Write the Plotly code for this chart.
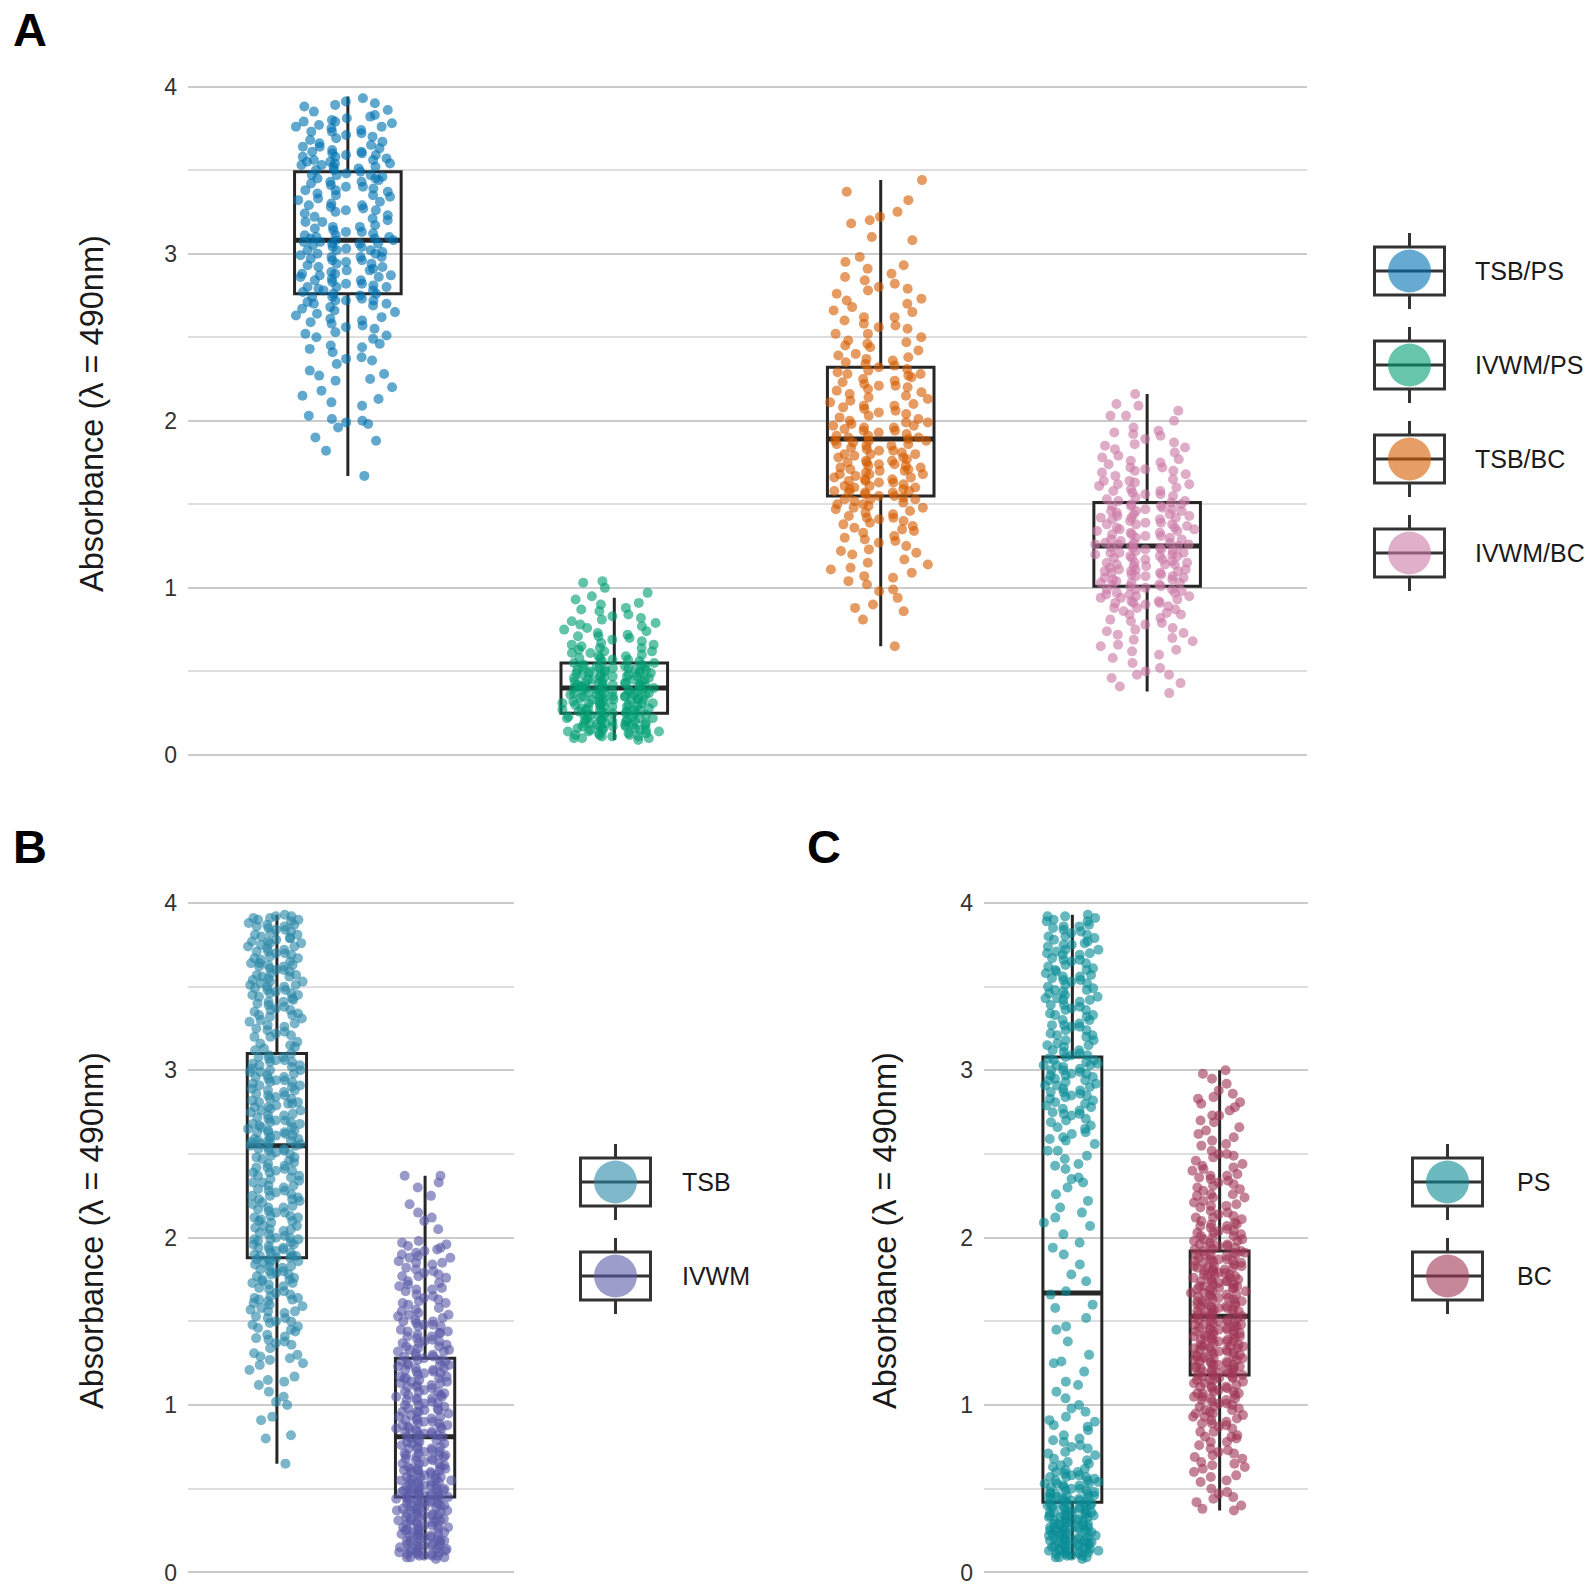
import plotly.graph_objects as go

W, H = 1594, 1588
FONT = "Liberation Sans, Arial, sans-serif"

# =========================
# Datos
# =========================
# --- Panel A: medio x superficie
groups_a = ["TSB/PS", "IVWM/PS", "TSB/BC", "IVWM/BC"]
colors_a = ["#0072B2", "#009E73", "#D55E00", "#CC79A7"]
q1_a = [2.76, 0.25, 1.55, 1.01]
med_a = [3.08, 0.40, 1.89, 1.25]
q3_a = [3.49, 0.55, 2.32, 1.51]
lo_a = [1.67, 0.09, 0.65, 0.38]
hi_a = [3.94, 0.94, 3.44, 2.16]

tsb_ps = [3.93, 3.91, 3.89, 3.88, 3.85, 3.81, 3.80, 3.79, 3.77, 3.76, 3.75, 3.73, 3.72, 3.70, 3.69, 3.66,
          3.65, 3.64, 3.62, 3.61, 3.60, 3.60, 3.59, 3.58, 3.57, 3.56, 3.55, 3.55, 3.54, 3.53, 3.52, 3.51,
          3.50, 3.49, 3.48, 3.47, 3.46, 3.45, 3.44, 3.42, 3.41, 3.40, 3.38, 3.37, 3.36, 3.34, 3.33, 3.31,
          3.30, 3.28, 3.27, 3.25, 3.24, 3.22, 3.21, 3.19, 3.17, 3.16, 3.14, 3.13, 3.12, 3.11, 3.10, 3.09,
          3.09, 3.08, 3.07, 3.07, 3.06, 3.05, 3.04, 3.03, 3.02, 3.01, 3.00, 2.99, 2.98, 2.97, 2.95, 2.94,
          2.93, 2.92, 2.90, 2.89, 2.88, 2.87, 2.86, 2.85, 2.83, 2.82, 2.81, 2.80, 2.79, 2.78, 2.77, 2.76,
          2.74, 2.73, 2.72, 2.71, 2.70, 2.68, 2.66, 2.64, 2.62, 2.60, 2.58, 2.56, 2.53, 2.51, 2.49, 2.46,
          2.43, 2.41, 2.37, 2.34, 2.30, 2.25, 2.24, 2.15, 2.13, 2.09, 2.03, 2.00, 1.96, 1.90, 1.82, 1.67,
          3.90, 3.83, 3.78, 3.74, 3.68, 3.63, 3.58, 3.53, 3.47, 3.43, 3.39, 3.35, 3.29, 3.26, 3.20, 3.15,
          3.11, 3.06, 3.02, 2.98, 2.96, 2.91, 2.87, 2.84, 2.80, 2.75, 2.72, 2.69, 2.65, 2.61, 2.57, 2.52,
          2.45, 2.38, 2.27, 2.20, 2.01, 1.98,
          3.86, 3.82, 3.79, 3.76, 3.73, 3.71, 3.67, 3.64, 3.61, 3.59, 3.56, 3.54, 3.52, 3.50, 3.47, 3.45,
          3.43, 3.40, 3.38, 3.35, 3.32, 3.29, 3.26, 3.23, 3.19, 3.16, 3.13, 3.10, 3.08, 3.06, 3.04, 3.02,
          3.00, 2.98, 2.96, 2.94, 2.92, 2.90, 2.88, 2.86, 2.84, 2.82, 2.80, 2.78, 2.76, 2.74, 2.72, 2.70,
          2.67, 2.63, 2.59, 2.55, 2.50, 2.44, 2.36, 2.28, 2.18, 2.11, 1.99, 1.88]
ivwm_ps = [1.04, 1.03, 1.00, 0.95, 0.93, 0.91, 0.88, 0.86, 0.83, 0.81, 0.80, 0.79, 0.77, 0.75, 0.74, 0.72,
           0.71, 0.70, 0.68, 0.67, 0.66, 0.65, 0.64, 0.63, 0.62, 0.61, 0.60, 0.59, 0.58, 0.57, 0.56, 0.55,
           0.54, 0.54, 0.53, 0.53, 0.52, 0.52, 0.51, 0.51, 0.50, 0.50, 0.49, 0.49, 0.48, 0.48, 0.47, 0.47,
           0.46, 0.46, 0.45, 0.45, 0.44, 0.44, 0.43, 0.43, 0.42, 0.42, 0.41, 0.41, 0.40, 0.40, 0.40, 0.39,
           0.39, 0.38, 0.38, 0.38, 0.37, 0.37, 0.36, 0.36, 0.36, 0.35, 0.35, 0.34, 0.34, 0.33, 0.33, 0.33,
           0.32, 0.32, 0.31, 0.31, 0.30, 0.30, 0.29, 0.29, 0.28, 0.28, 0.27, 0.27, 0.26, 0.26, 0.25, 0.25,
           0.24, 0.24, 0.23, 0.23, 0.22, 0.22, 0.21, 0.21, 0.20, 0.20, 0.19, 0.19, 0.18, 0.18, 0.17, 0.17,
           0.16, 0.16, 0.15, 0.15, 0.14, 0.14, 0.13, 0.12, 0.12, 0.11, 0.10, 0.09,
           0.90, 0.84, 0.78, 0.73, 0.69, 0.64, 0.61, 0.58, 0.56, 0.53, 0.51, 0.49, 0.47, 0.45, 0.43, 0.41,
           0.39, 0.37, 0.35, 0.33, 0.31, 0.29, 0.27, 0.25, 0.23, 0.21, 0.19, 0.17, 0.15, 0.13, 0.11, 0.10,
           0.97, 0.87, 0.82, 0.76, 0.71, 0.66, 0.62, 0.59, 0.57, 0.55, 0.53, 0.52, 0.50, 0.49, 0.48, 0.46,
           0.45, 0.44, 0.43, 0.42, 0.41, 0.40, 0.39, 0.38, 0.37, 0.36, 0.35, 0.34, 0.33, 0.32, 0.31, 0.30,
           0.29, 0.28, 0.27, 0.26, 0.25, 0.24, 0.23, 0.22, 0.21, 0.20, 0.19, 0.18, 0.17, 0.16, 0.15, 0.14,
           0.13, 0.12, 0.11, 0.10, 0.35, 0.30, 0.27, 0.22, 0.18, 0.42, 0.47, 0.51]
tsb_bc = [3.44, 3.37, 3.32, 3.25, 3.22, 3.18, 3.08, 2.98, 2.95, 2.91, 2.88, 2.86, 2.84, 2.80, 2.78, 2.76,
          2.73, 2.70, 2.68, 2.65, 2.62, 2.60, 2.57, 2.55, 2.52, 2.50, 2.47, 2.45, 2.42, 2.40, 2.37, 2.35,
          2.33, 2.31, 2.30, 2.29, 2.27, 2.26, 2.24, 2.23, 2.21, 2.20, 2.18, 2.17, 2.15, 2.14, 2.12, 2.11,
          2.09, 2.08, 2.06, 2.05, 2.03, 2.02, 2.00, 1.99, 1.97, 1.96, 1.95, 1.93, 1.92, 1.91, 1.90, 1.89,
          1.88, 1.87, 1.86, 1.85, 1.84, 1.82, 1.81, 1.80, 1.79, 1.78, 1.77, 1.76, 1.75, 1.74, 1.73, 1.72,
          1.71, 1.70, 1.69, 1.68, 1.67, 1.66, 1.65, 1.64, 1.63, 1.62, 1.61, 1.60, 1.59, 1.58, 1.57, 1.56,
          1.55, 1.54, 1.53, 1.52, 1.50, 1.49, 1.47, 1.46, 1.44, 1.43, 1.41, 1.40, 1.38, 1.36, 1.35, 1.33,
          1.31, 1.29, 1.27, 1.25, 1.22, 1.20, 1.17, 1.14, 1.11, 1.09, 1.06, 1.02, 0.94, 0.90, 0.86, 0.81, 0.65,
          3.20, 2.82, 2.72, 2.58, 2.48, 2.39, 2.34, 2.28, 2.22, 2.16, 2.10, 2.04, 1.98, 1.94, 1.88, 1.85,
          1.80, 1.76, 1.72, 1.68, 1.64, 1.60, 1.57, 1.53, 1.48, 1.42, 1.37, 1.30, 1.23, 1.12, 1.04, 0.98,
          3.10, 2.93, 2.79, 2.66, 2.56, 2.46, 2.38, 2.32, 2.25, 2.19, 2.13, 2.07, 2.01, 1.97, 1.94, 1.91,
          1.88, 1.86, 1.83, 1.80, 1.78, 1.75, 1.73, 1.70, 1.68, 1.66, 1.63, 1.61, 1.59, 1.57, 1.55, 1.53,
          1.51, 1.48, 1.45, 1.42, 1.39, 1.34, 1.28, 1.21, 1.15, 1.07, 0.99, 0.88, 2.44, 2.36, 2.21, 2.09,
          1.99, 1.90, 1.82, 1.74, 1.65, 1.58, 1.50, 2.62, 2.52, 2.28, 1.96, 1.71]
ivwm_bc = [2.16, 2.10, 2.06, 2.03, 2.00, 1.96, 1.93, 1.91, 1.89, 1.87, 1.85, 1.83, 1.81, 1.79, 1.77, 1.75,
           1.74, 1.72, 1.71, 1.70, 1.68, 1.67, 1.65, 1.64, 1.62, 1.61, 1.59, 1.58, 1.56, 1.55, 1.53, 1.52,
           1.51, 1.50, 1.49, 1.49, 1.48, 1.47, 1.46, 1.45, 1.44, 1.43, 1.43, 1.42, 1.41, 1.40, 1.39, 1.38,
           1.37, 1.36, 1.35, 1.35, 1.34, 1.33, 1.32, 1.31, 1.30, 1.29, 1.28, 1.27, 1.27, 1.26, 1.25, 1.24,
           1.24, 1.23, 1.22, 1.21, 1.21, 1.20, 1.19, 1.18, 1.18, 1.17, 1.16, 1.15, 1.14, 1.14, 1.13, 1.12,
           1.11, 1.10, 1.10, 1.09, 1.08, 1.07, 1.06, 1.06, 1.05, 1.04, 1.03, 1.02, 1.01, 1.00, 0.99, 0.98,
           0.97, 0.96, 0.95, 0.94, 0.93, 0.92, 0.91, 0.90, 0.88, 0.87, 0.85, 0.84, 0.82, 0.80, 0.78, 0.76,
           0.74, 0.72, 0.70, 0.68, 0.65, 0.63, 0.60, 0.55, 0.50, 0.46, 0.41, 0.37,
           2.09, 1.94, 1.86, 1.78, 1.69, 1.63, 1.57, 1.54, 1.50, 1.46, 1.42, 1.38, 1.34, 1.30, 1.26, 1.22,
           1.19, 1.15, 1.11, 1.07, 1.03, 0.99, 0.95, 0.91, 0.86, 0.81, 0.75, 0.69, 0.62, 0.52, 0.48, 0.43,
           2.03, 1.92, 1.84, 1.76, 1.70, 1.64, 1.60, 1.56, 1.52, 1.49, 1.46, 1.44, 1.41, 1.38, 1.36, 1.33,
           1.31, 1.29, 1.27, 1.25, 1.23, 1.21, 1.19, 1.17, 1.15, 1.13, 1.11, 1.09, 1.07, 1.05, 1.03, 1.01,
           0.99, 0.97, 0.94, 0.91, 0.88, 0.84, 0.79, 0.73, 0.66, 0.58, 0.48, 1.72, 1.58, 1.47, 1.39, 1.32,
           1.26, 1.20, 1.14, 1.08, 1.02, 0.96, 0.89, 1.62, 1.42, 1.24, 1.10, 0.92]
points_a = [tsb_ps, ivwm_ps, tsb_bc, ivwm_bc]

# --- Panel B: medio
groups_b = ["TSB", "IVWM"]
colors_b = ["#2A88A8", "#5B5BA8"]
q1_b = [1.88, 0.45]
med_b = [2.55, 0.81]
q3_b = [3.10, 1.28]
lo_b = [0.65, 0.08]
hi_b = [3.93, 2.37]

tsb = [3.93, 3.92, 3.91, 3.90, 3.89, 3.88, 3.86, 3.85, 3.83, 3.82, 3.80, 3.79, 3.78, 3.76, 3.75, 3.73,
       3.72, 3.71, 3.69, 3.68, 3.66, 3.65, 3.64, 3.62, 3.61, 3.60, 3.58, 3.57, 3.56, 3.54, 3.53, 3.52,
       3.50, 3.49, 3.47, 3.46, 3.44, 3.43, 3.41, 3.40, 3.38, 3.36, 3.34, 3.32, 3.30, 3.27, 3.24, 3.21,
       3.17, 3.13, 3.10, 3.09, 3.07, 3.06, 3.05, 3.03, 3.02, 3.01, 2.99, 2.98, 2.97, 2.95, 2.94, 2.93,
       2.91, 2.90, 2.89, 2.87, 2.86, 2.85, 2.83, 2.82, 2.81, 2.80, 2.78, 2.77, 2.76, 2.75, 2.74, 2.72,
       2.71, 2.70, 2.69, 2.68, 2.67, 2.66, 2.65, 2.64, 2.63, 2.62, 2.61, 2.60, 2.59, 2.58, 2.58, 2.57,
       2.57, 2.56, 2.56, 2.55, 2.54, 2.52, 2.51, 2.49, 2.48, 2.46, 2.45, 2.43, 2.42, 2.40, 2.39, 2.37,
       2.36, 2.34, 2.33, 2.31, 2.30, 2.28, 2.27, 2.25, 2.24, 2.22, 2.21, 2.19, 2.18, 2.16, 2.15, 2.13,
       2.12, 2.10, 2.09, 2.07, 2.06, 2.04, 2.03, 2.01, 2.00, 1.99, 1.98, 1.97, 1.96, 1.95, 1.94, 1.93,
       1.92, 1.91, 1.90, 1.89, 1.89, 1.88, 1.87, 1.86, 1.85, 1.84, 1.83, 1.82, 1.80, 1.79, 1.78, 1.76,
       1.75, 1.74, 1.72, 1.71, 1.69, 1.68, 1.66, 1.65, 1.63, 1.62, 1.60, 1.58, 1.57, 1.55, 1.53, 1.52,
       1.50, 1.48, 1.46, 1.44, 1.42, 1.40, 1.37, 1.34, 1.31, 1.28, 1.27, 1.25, 1.21, 1.17, 1.12, 1.08,
       1.05, 1.00, 0.93, 0.91, 0.82, 0.80, 0.65,
       3.91, 3.87, 3.84, 3.81, 3.77, 3.74, 3.70, 3.67, 3.63, 3.59, 3.55, 3.51, 3.48, 3.45, 3.42, 3.37,
       3.33, 3.29, 3.25, 3.20, 3.15, 3.08, 3.04, 3.00, 2.96, 2.92, 2.88, 2.84, 2.79, 2.73, 2.68, 2.63,
       2.59, 2.53, 2.47, 2.41, 2.35, 2.29, 2.23, 2.17, 2.11, 2.05, 1.99, 1.93, 1.87, 1.81, 1.73, 1.64,
       1.56, 1.47, 1.39, 1.29, 1.15, 1.02,
       3.92, 3.90, 3.87, 3.84, 3.81, 3.79, 3.77, 3.74, 3.71, 3.70, 3.67, 3.64, 3.63, 3.60, 3.57, 3.56,
       3.53, 3.51, 3.48, 3.46, 3.45, 3.41, 3.39, 3.36, 3.33, 3.31, 3.28, 3.26, 3.22, 3.20, 3.16, 3.14,
       3.12, 3.08, 3.06, 3.03, 3.00, 2.99, 2.96, 2.93, 2.91, 2.88, 2.85, 2.83, 2.81, 2.78, 2.76, 2.73,
       2.70, 2.69, 2.66, 2.63, 2.61, 2.58, 2.55, 2.53, 2.50, 2.48, 2.44, 2.42, 2.39, 2.37, 2.33, 2.31,
       2.28, 2.26, 2.23, 2.20, 2.18, 2.15, 2.12, 2.10, 2.07, 2.05, 2.02, 1.99, 1.96, 1.94, 1.91, 1.88,
       1.86, 1.83, 1.80, 1.78, 1.75, 1.73, 1.70, 1.67, 1.64, 1.61, 1.59, 1.56, 1.52, 1.49, 1.45, 1.41,
       1.36, 1.30, 1.24, 1.14, 3.86, 3.76, 3.62, 3.50, 3.35, 3.23, 3.05, 2.94, 2.80, 2.64, 2.52, 2.40,
       2.25, 2.13, 2.00, 1.89, 1.77, 1.63, 1.50, 1.38]
ivwm = [2.37, 2.37, 2.30, 2.25, 2.20, 2.15, 2.10, 2.05, 1.98, 1.96, 1.94, 1.92, 1.90, 1.88, 1.86, 1.84,
        1.82, 1.80, 1.78, 1.76, 1.74, 1.72, 1.70, 1.68, 1.66, 1.64, 1.62, 1.60, 1.58, 1.56, 1.54, 1.53,
        1.51, 1.50, 1.48, 1.47, 1.45, 1.44, 1.42, 1.41, 1.40, 1.38, 1.37, 1.36, 1.34, 1.33, 1.32, 1.31,
        1.30, 1.29, 1.28, 1.27, 1.26, 1.25, 1.24, 1.23, 1.22, 1.21, 1.20, 1.19, 1.18, 1.17, 1.16, 1.15,
        1.14, 1.13, 1.12, 1.11, 1.10, 1.09, 1.08, 1.07, 1.06, 1.05, 1.04, 1.03, 1.02, 1.01, 1.00, 0.99,
        0.98, 0.97, 0.96, 0.95, 0.94, 0.93, 0.92, 0.91, 0.90, 0.89, 0.88, 0.87, 0.87, 0.86, 0.86, 0.85,
        0.84, 0.84, 0.83, 0.82, 0.81, 0.80, 0.79, 0.78, 0.77, 0.76, 0.75, 0.74, 0.73, 0.72, 0.71, 0.70,
        0.70, 0.69, 0.68, 0.67, 0.66, 0.65, 0.64, 0.63, 0.62, 0.62, 0.61, 0.60, 0.59, 0.58, 0.57, 0.57,
        0.56, 0.55, 0.54, 0.54, 0.53, 0.52, 0.52, 0.51, 0.50, 0.50, 0.49, 0.49, 0.48, 0.48, 0.47, 0.47,
        0.46, 0.46, 0.46, 0.45, 0.45, 0.45, 0.44, 0.43, 0.43, 0.42, 0.41, 0.41, 0.40, 0.39, 0.38, 0.38,
        0.37, 0.36, 0.35, 0.35, 0.34, 0.33, 0.32, 0.31, 0.31, 0.30, 0.29, 0.28, 0.27, 0.27, 0.26, 0.25,
        0.24, 0.23, 0.23, 0.22, 0.21, 0.20, 0.19, 0.19, 0.18, 0.17, 0.16, 0.16, 0.15, 0.14, 0.13, 0.13,
        0.12, 0.11, 0.11, 0.10, 0.10, 0.09, 0.09, 0.08,
        1.95, 1.91, 1.85, 1.77, 1.69, 1.61, 1.55, 1.49, 1.43, 1.39, 1.35, 1.29, 1.24, 1.20, 1.16, 1.12,
        1.08, 1.04, 1.00, 0.96, 0.92, 0.88, 0.83, 0.78, 0.74, 0.69, 0.65, 0.61, 0.58, 0.55, 0.52, 0.49,
        0.46, 0.43, 0.40, 0.37, 0.34, 0.31, 0.28, 0.25, 0.22, 0.19, 0.16, 0.14, 0.12, 0.10,
        2.33, 2.12, 1.97, 1.93, 1.89, 1.85, 1.81, 1.77, 1.73, 1.69, 1.65, 1.61, 1.57, 1.54, 1.50, 1.47,
        1.44, 1.41, 1.38, 1.35, 1.32, 1.29, 1.26, 1.24, 1.21, 1.19, 1.16, 1.13, 1.11, 1.08, 1.06, 1.03,
        1.01, 0.98, 0.96, 0.93, 0.91, 0.89, 0.86, 0.84, 0.81, 0.79, 0.77, 0.74, 0.72, 0.70, 0.67, 0.65,
        0.63, 0.61, 0.59, 0.57, 0.55, 0.53, 0.51, 0.49, 0.47, 0.45, 0.44, 0.42, 0.40, 0.39, 0.37, 0.36,
        0.34, 0.33, 0.31, 0.30, 0.28, 0.27, 0.25, 0.24, 0.22, 0.21, 0.19, 0.18, 0.16, 0.15, 0.13, 0.12,
        0.10, 0.09, 1.88, 1.79, 1.71, 1.63, 1.52, 1.43, 1.33, 1.22, 1.14, 1.05, 0.97, 0.90, 0.82, 0.75,
        0.68, 0.60, 0.54, 0.48, 0.43, 0.38, 0.32, 0.26, 0.20, 0.14, 0.11, 0.35, 0.29, 0.23, 0.17, 0.41,
        0.50, 0.56, 0.62, 0.71, 1.17, 1.27, 1.37, 1.48]
points_b = [tsb, ivwm]

# --- Panel C: superficie
groups_c = ["PS", "BC"]
colors_c = ["#0A8C96", "#A03755"]
q1_c = [0.42, 1.18]
med_c = [1.67, 1.53]
q3_c = [3.08, 1.92]
lo_c = [0.08, 0.37]
hi_c = [3.93, 3.00]

ps = [3.93, 3.92, 3.90, 3.89, 3.87, 3.86, 3.84, 3.82, 3.81, 3.79, 3.77, 3.76, 3.74, 3.72, 3.71, 3.69,
      3.67, 3.66, 3.64, 3.62, 3.61, 3.59, 3.58, 3.56, 3.55, 3.53, 3.52, 3.50, 3.49, 3.47, 3.46, 3.44,
      3.42, 3.41, 3.39, 3.37, 3.36, 3.34, 3.32, 3.30, 3.28, 3.26, 3.24, 3.22, 3.20, 3.18, 3.16, 3.14,
      3.12, 3.10, 3.08, 3.07, 3.06, 3.05, 3.04, 3.03, 3.02, 3.01, 3.00, 2.98, 2.97, 2.96, 2.94, 2.93,
      2.92, 2.90, 2.89, 2.87, 2.86, 2.84, 2.83, 2.81, 2.79, 2.77, 2.75, 2.73, 2.71, 2.69, 2.66, 2.63,
      2.60, 2.56, 2.52, 2.47, 2.43, 2.41, 2.36, 2.30, 2.26, 2.22, 2.18, 2.12, 2.07, 2.02, 1.97, 1.90,
      1.84, 1.78, 1.74, 1.68, 1.66, 1.60, 1.52, 1.45, 1.38, 1.30, 1.25, 1.20, 1.14, 1.08, 1.04, 1.00,
      0.96, 0.93, 0.90, 0.87, 0.85, 0.82, 0.80, 0.78, 0.76, 0.74, 0.72, 0.70, 0.68, 0.66, 0.64, 0.62,
      0.61, 0.60, 0.59, 0.58, 0.57, 0.56, 0.55, 0.54, 0.53, 0.52, 0.51, 0.50, 0.49, 0.48, 0.48, 0.47,
      0.46, 0.45, 0.45, 0.44, 0.43, 0.43, 0.42, 0.41, 0.41, 0.40, 0.39, 0.39, 0.38, 0.37, 0.37, 0.36,
      0.35, 0.35, 0.34, 0.33, 0.33, 0.32, 0.31, 0.31, 0.30, 0.29, 0.29, 0.28, 0.27, 0.27, 0.26, 0.25,
      0.25, 0.24, 0.23, 0.22, 0.22, 0.21, 0.20, 0.19, 0.19, 0.18, 0.17, 0.16, 0.16, 0.15, 0.14, 0.13,
      0.13, 0.12, 0.11, 0.10, 0.10, 0.09, 0.09, 0.08,
      3.91, 3.85, 3.80, 3.75, 3.70, 3.65, 3.60, 3.54, 3.48, 3.43, 3.38, 3.33, 3.27, 3.21, 3.15, 3.09,
      3.03, 2.99, 2.95, 2.91, 2.85, 2.80, 2.74, 2.67, 2.58, 2.49, 2.33, 2.09, 1.58, 1.26, 0.98, 0.88,
      0.75, 0.67, 0.63, 0.57, 0.53, 0.50, 0.47, 0.44, 0.40, 0.36, 0.34, 0.30, 0.26, 0.23, 0.20, 0.17,
      0.14, 0.11,
      3.92, 3.89, 3.86, 3.83, 3.80, 3.78, 3.75, 3.72, 3.69, 3.66, 3.63, 3.60, 3.57, 3.54, 3.51, 3.48,
      3.45, 3.42, 3.39, 3.36, 3.33, 3.30, 3.27, 3.24, 3.21, 3.18, 3.15, 3.12, 3.09, 3.06, 3.03, 3.00,
      2.97, 2.94, 2.91, 2.88, 2.85, 2.82, 2.78, 2.74, 2.70, 2.65, 2.59, 2.52, 2.44, 2.35, 3.70, 3.56,
      3.43, 3.26, 3.11, 2.98, 2.87, 2.76, 2.62, 2.15, 1.94, 1.47, 1.12, 0.91, 0.79,
      0.71, 0.65, 0.60, 0.57, 0.55, 0.53, 0.51, 0.49, 0.47, 0.46, 0.44, 0.43, 0.41, 0.40, 0.38, 0.37,
      0.36, 0.34, 0.33, 0.32, 0.30, 0.29, 0.28, 0.27, 0.26, 0.25, 0.24, 0.23, 0.22, 0.21, 0.20, 0.19,
      0.18, 0.17, 0.16, 0.15, 0.14, 0.13, 0.12, 0.11, 0.10, 0.09, 0.58, 0.52, 0.45, 0.39, 0.35, 0.31,
      0.27, 0.24, 0.21, 0.18, 0.15, 0.12, 0.42, 0.34, 0.26, 0.20, 0.16, 0.13]
bc = [3.00, 2.98, 2.88, 2.86, 2.84, 2.80, 2.78, 2.76, 2.73, 2.70, 2.66, 2.62, 2.58, 2.55, 2.52, 2.49,
      2.46, 2.44, 2.42, 2.40, 2.38, 2.36, 2.34, 2.32, 2.30, 2.28, 2.26, 2.24, 2.22, 2.20, 2.18, 2.16,
      2.14, 2.12, 2.10, 2.08, 2.07, 2.06, 2.05, 2.03, 2.02, 2.01, 2.00, 1.99, 1.98, 1.97, 1.96, 1.95,
      1.94, 1.93, 1.92, 1.91, 1.90, 1.90, 1.89, 1.88, 1.87, 1.86, 1.86, 1.85, 1.84, 1.83, 1.82, 1.82,
      1.81, 1.80, 1.79, 1.78, 1.78, 1.77, 1.76, 1.75, 1.74, 1.74, 1.73, 1.72, 1.71, 1.70, 1.70, 1.69,
      1.68, 1.67, 1.66, 1.66, 1.65, 1.64, 1.63, 1.62, 1.62, 1.61, 1.60, 1.59, 1.58, 1.58, 1.57, 1.56,
      1.55, 1.55, 1.54, 1.53, 1.52, 1.51, 1.51, 1.50, 1.49, 1.49, 1.48, 1.47, 1.46, 1.46, 1.45, 1.44,
      1.44, 1.43, 1.42, 1.41, 1.41, 1.40, 1.39, 1.39, 1.38, 1.37, 1.36, 1.36, 1.35, 1.34, 1.34, 1.33,
      1.32, 1.31, 1.31, 1.30, 1.29, 1.29, 1.28, 1.27, 1.26, 1.26, 1.25, 1.24, 1.24, 1.23, 1.22, 1.21,
      1.21, 1.20, 1.19, 1.19, 1.18, 1.18, 1.17, 1.16, 1.15, 1.14, 1.13, 1.12, 1.11, 1.10, 1.09, 1.08,
      1.07, 1.06, 1.05, 1.04, 1.03, 1.02, 1.01, 1.00, 0.98, 0.97, 0.96, 0.95, 0.93, 0.92, 0.90, 0.89,
      0.87, 0.86, 0.84, 0.82, 0.80, 0.78, 0.76, 0.74, 0.72, 0.70, 0.68, 0.66, 0.64, 0.62, 0.60, 0.57,
      0.54, 0.50, 0.47, 0.45, 0.42, 0.40, 0.38, 0.37,
      2.92, 2.81, 2.69, 2.60, 2.50, 2.43, 2.37, 2.31, 2.25, 2.19, 2.13, 2.09, 2.04, 1.99, 1.95, 1.91,
      1.87, 1.83, 1.79, 1.75, 1.71, 1.67, 1.63, 1.59, 1.56, 1.52, 1.48, 1.45, 1.42, 1.38, 1.35, 1.32,
      1.28, 1.25, 1.22, 1.19, 1.15, 1.11, 1.07, 1.03, 0.99, 0.94, 0.88, 0.81, 0.73, 0.65, 0.58, 0.48,
      2.95, 2.83, 2.73, 2.64, 2.56, 2.48, 2.41, 2.35, 2.29, 2.24, 2.19, 2.15, 2.11, 2.07, 2.04, 2.01,
      1.98, 1.95, 1.92, 1.90, 1.87, 1.85, 1.83, 1.80, 1.78, 1.76, 1.74, 1.72, 1.70, 1.68, 1.66, 1.64,
      1.62, 1.60, 1.58, 1.56, 1.54, 1.52, 1.50, 1.48, 1.46, 1.44, 1.42, 1.40, 1.38, 1.36, 1.34, 1.32,
      1.30, 1.28, 1.26, 1.24, 1.22, 1.20, 1.18, 1.16, 1.13, 1.10, 1.07, 1.04, 1.01, 0.97, 0.93, 0.89,
      0.84, 0.78, 0.71, 0.63, 0.55, 0.44, 2.50, 2.33, 2.21, 2.12, 2.03, 1.96, 1.89, 1.82, 1.77, 1.71,
      1.65, 1.59, 1.53, 1.47, 1.41, 1.35, 1.29, 1.23, 1.17, 1.11, 1.05, 0.99, 0.91, 0.81, 0.69, 2.26,
      2.08, 1.93, 1.81, 1.69, 1.57, 1.45, 1.33, 1.21, 1.08, 0.95, 1.86, 1.61, 1.39, 1.15, 2.37, 1.74,
      1.50, 1.27]
points_c = [ps, bc]

y_title = "Absorbance (λ = 490nm)"


# -------------------------
# helpers
# -------------------------
def fx(p):
    return p / W


def fy(p):
    return 1 - p / H


def rgba(hex_color, a):
    h = hex_color.lstrip("#")
    r, g, b = int(h[0:2], 16), int(h[2:4], 16), int(h[4:6], 16)
    return f"rgba({r},{g},{b},{a})"


def bands(vals, sizes=(17, 13, 19, 15, 21, 14, 18, 16)):
    """Parte los puntos (ordenados) en tramos, para que el jitter de plotly
    cubra todo el ancho de la caja tambien en las colas (como geom_jitter)."""
    vals = sorted(vals)
    out, i, k = [], 0, 0
    while i < len(vals):
        n = sizes[k % len(sizes)]
        out.append(vals[i:i + n])
        i += n
        k += 1
    return out


def add_panel(fig, cats, colors, q1, med, q3, lo, hi, points, xa, ya):
    for i, cat in enumerate(cats):
        # caja (estadisticos leidos)
        fig.add_trace(go.Box(
            x=[cat], q1=[q1[i]], median=[med[i]], q3=[q3[i]],
            lowerfence=[lo[i]], upperfence=[hi[i]],
            fillcolor="rgba(0,0,0,0)", line=dict(color="#262626", width=3),
            whiskerwidth=0, boxpoints=False, showlegend=False, hoverinfo="skip",
            xaxis=xa, yaxis=ya,
        ))
        # mediana gruesa
        fig.add_trace(go.Box(
            x=[cat], q1=[med[i]], median=[med[i]], q3=[med[i]],
            lowerfence=[med[i]], upperfence=[med[i]],
            fillcolor="rgba(0,0,0,0)", line=dict(color="#262626", width=5),
            whiskerwidth=0, boxpoints=False, showlegend=False, hoverinfo="skip",
            xaxis=xa, yaxis=ya,
        ))
        # puntos con jitter
        for part in bands(points[i]):
            fig.add_trace(go.Box(
                x=[cat] * len(part), y=part, name=cat,
                boxpoints="all", jitter=1, pointpos=0,
                fillcolor="rgba(0,0,0,0)", line=dict(color="rgba(0,0,0,0)", width=0),
                marker=dict(color=rgba(colors[i], 0.62), size=10, line=dict(width=0)),
                showlegend=False, xaxis=xa, yaxis=ya,
            ))


def add_legend(fig, labels, colors, bx, ys, tx):
    shapes = []
    for lab, col, cy in zip(labels, colors, ys):
        line = dict(color="#333333", width=3)
        shapes.append(dict(type="line", xref="paper", yref="paper",
                           x0=fx(bx), x1=fx(bx), y0=fy(cy - 38), y1=fy(cy + 38), line=line))
        shapes.append(dict(type="rect", xref="paper", yref="paper",
                           x0=fx(bx - 35), x1=fx(bx + 35), y0=fy(cy - 24), y1=fy(cy + 24),
                           line=line, fillcolor="white"))
        shapes.append(dict(type="line", xref="paper", yref="paper",
                           x0=fx(bx - 35), x1=fx(bx + 35), y0=fy(cy), y1=fy(cy), line=line))
        shapes.append(dict(type="circle", xref="paper", yref="paper",
                           x0=fx(bx - 21.5), x1=fx(bx + 21.5), y0=fy(cy - 21.5), y1=fy(cy + 21.5),
                           line=dict(width=0), fillcolor=rgba(col, 0.6)))
        fig.add_annotation(x=fx(tx), y=fy(cy), xref="paper", yref="paper", text=lab,
                           showarrow=False, xanchor="left", yanchor="middle",
                           font=dict(family=FONT, size=25, color="#1a1a1a"))
    for s in shapes:
        fig.add_shape(**s)


fig = go.Figure()
add_panel(fig, groups_a, colors_a, q1_a, med_a, q3_a, lo_a, hi_a, points_a, "x", "y")
add_panel(fig, groups_b, colors_b, q1_b, med_b, q3_b, lo_b, hi_b, points_b, "x2", "y2")
add_panel(fig, groups_c, colors_c, q1_c, med_c, q3_c, lo_c, hi_c, points_c, "x3", "y3")

yax = dict(
    dtick=1, tick0=0, showgrid=True, gridcolor="#cbcbcb", gridwidth=2,
    minor=dict(dtick=0.5, showgrid=True, gridcolor="#dedede", gridwidth=1.5),
    zeroline=False, showline=False, ticks="", ticklabelstandoff=10,
    tickfont=dict(family=FONT, size=23, color="#333333"),
)
xax = dict(showticklabels=False, showgrid=False, zeroline=False, showline=False, ticks="")

fig.update_layout(
    width=W, height=H, margin=dict(l=0, r=0, t=0, b=0),
    paper_bgcolor="white", plot_bgcolor="white",
    boxmode="overlay", boxgap=0.6, boxgroupgap=0, showlegend=False,
    xaxis=dict(xax, domain=[fx(188), fx(1307)], range=[-0.6, 3.6], anchor="y"),
    yaxis=dict(yax, domain=[fy(775), fy(64.8)], range=[-0.12, 4.13], anchor="x"),
    xaxis2=dict(xax, domain=[fx(188), fx(514)], range=[-0.6, 1.6], anchor="y2"),
    yaxis2=dict(yax, domain=[fy(1587.5), fy(881.2)], range=[-0.09, 4.13], anchor="x2"),
    xaxis3=dict(xax, domain=[fx(984), fx(1308)], range=[-0.6, 1.6], anchor="y3"),
    yaxis3=dict(yax, domain=[fy(1587.5), fy(881.2)], range=[-0.09, 4.13], anchor="x3"),
)

# titulos de eje
for xp, yp in [(92, 414), (92, 1231), (885, 1231)]:
    fig.add_annotation(x=fx(xp), y=fy(yp), xref="paper", yref="paper", text=y_title,
                       textangle=-90, showarrow=False, xanchor="center", yanchor="middle",
                       font=dict(family=FONT, size=32.5, color="#1a1a1a"))

# letras de panel
for lab, xp, yp in [("A", 11, 29.5), ("B", 11, 846), ("C", 805, 846)]:
    fig.add_annotation(x=fx(xp), y=fy(yp), xref="paper", yref="paper", text=f"<b>{lab}</b>",
                       showarrow=False, xanchor="left", yanchor="middle",
                       font=dict(family=FONT, size=47, color="black"))

# leyendas
add_legend(fig, groups_a, colors_a, 1409.5, [271, 365, 459, 553], 1473)
add_legend(fig, groups_b, colors_b, 615.5, [1182, 1276], 680)
add_legend(fig, groups_c, colors_c, 1447.5, [1182, 1276], 1515)

fig.write_html(
    "out.html",
    config={"displayModeBar": False},
    post_script="document.body.style.margin='0';document.body.style.overflow='hidden';",
)
